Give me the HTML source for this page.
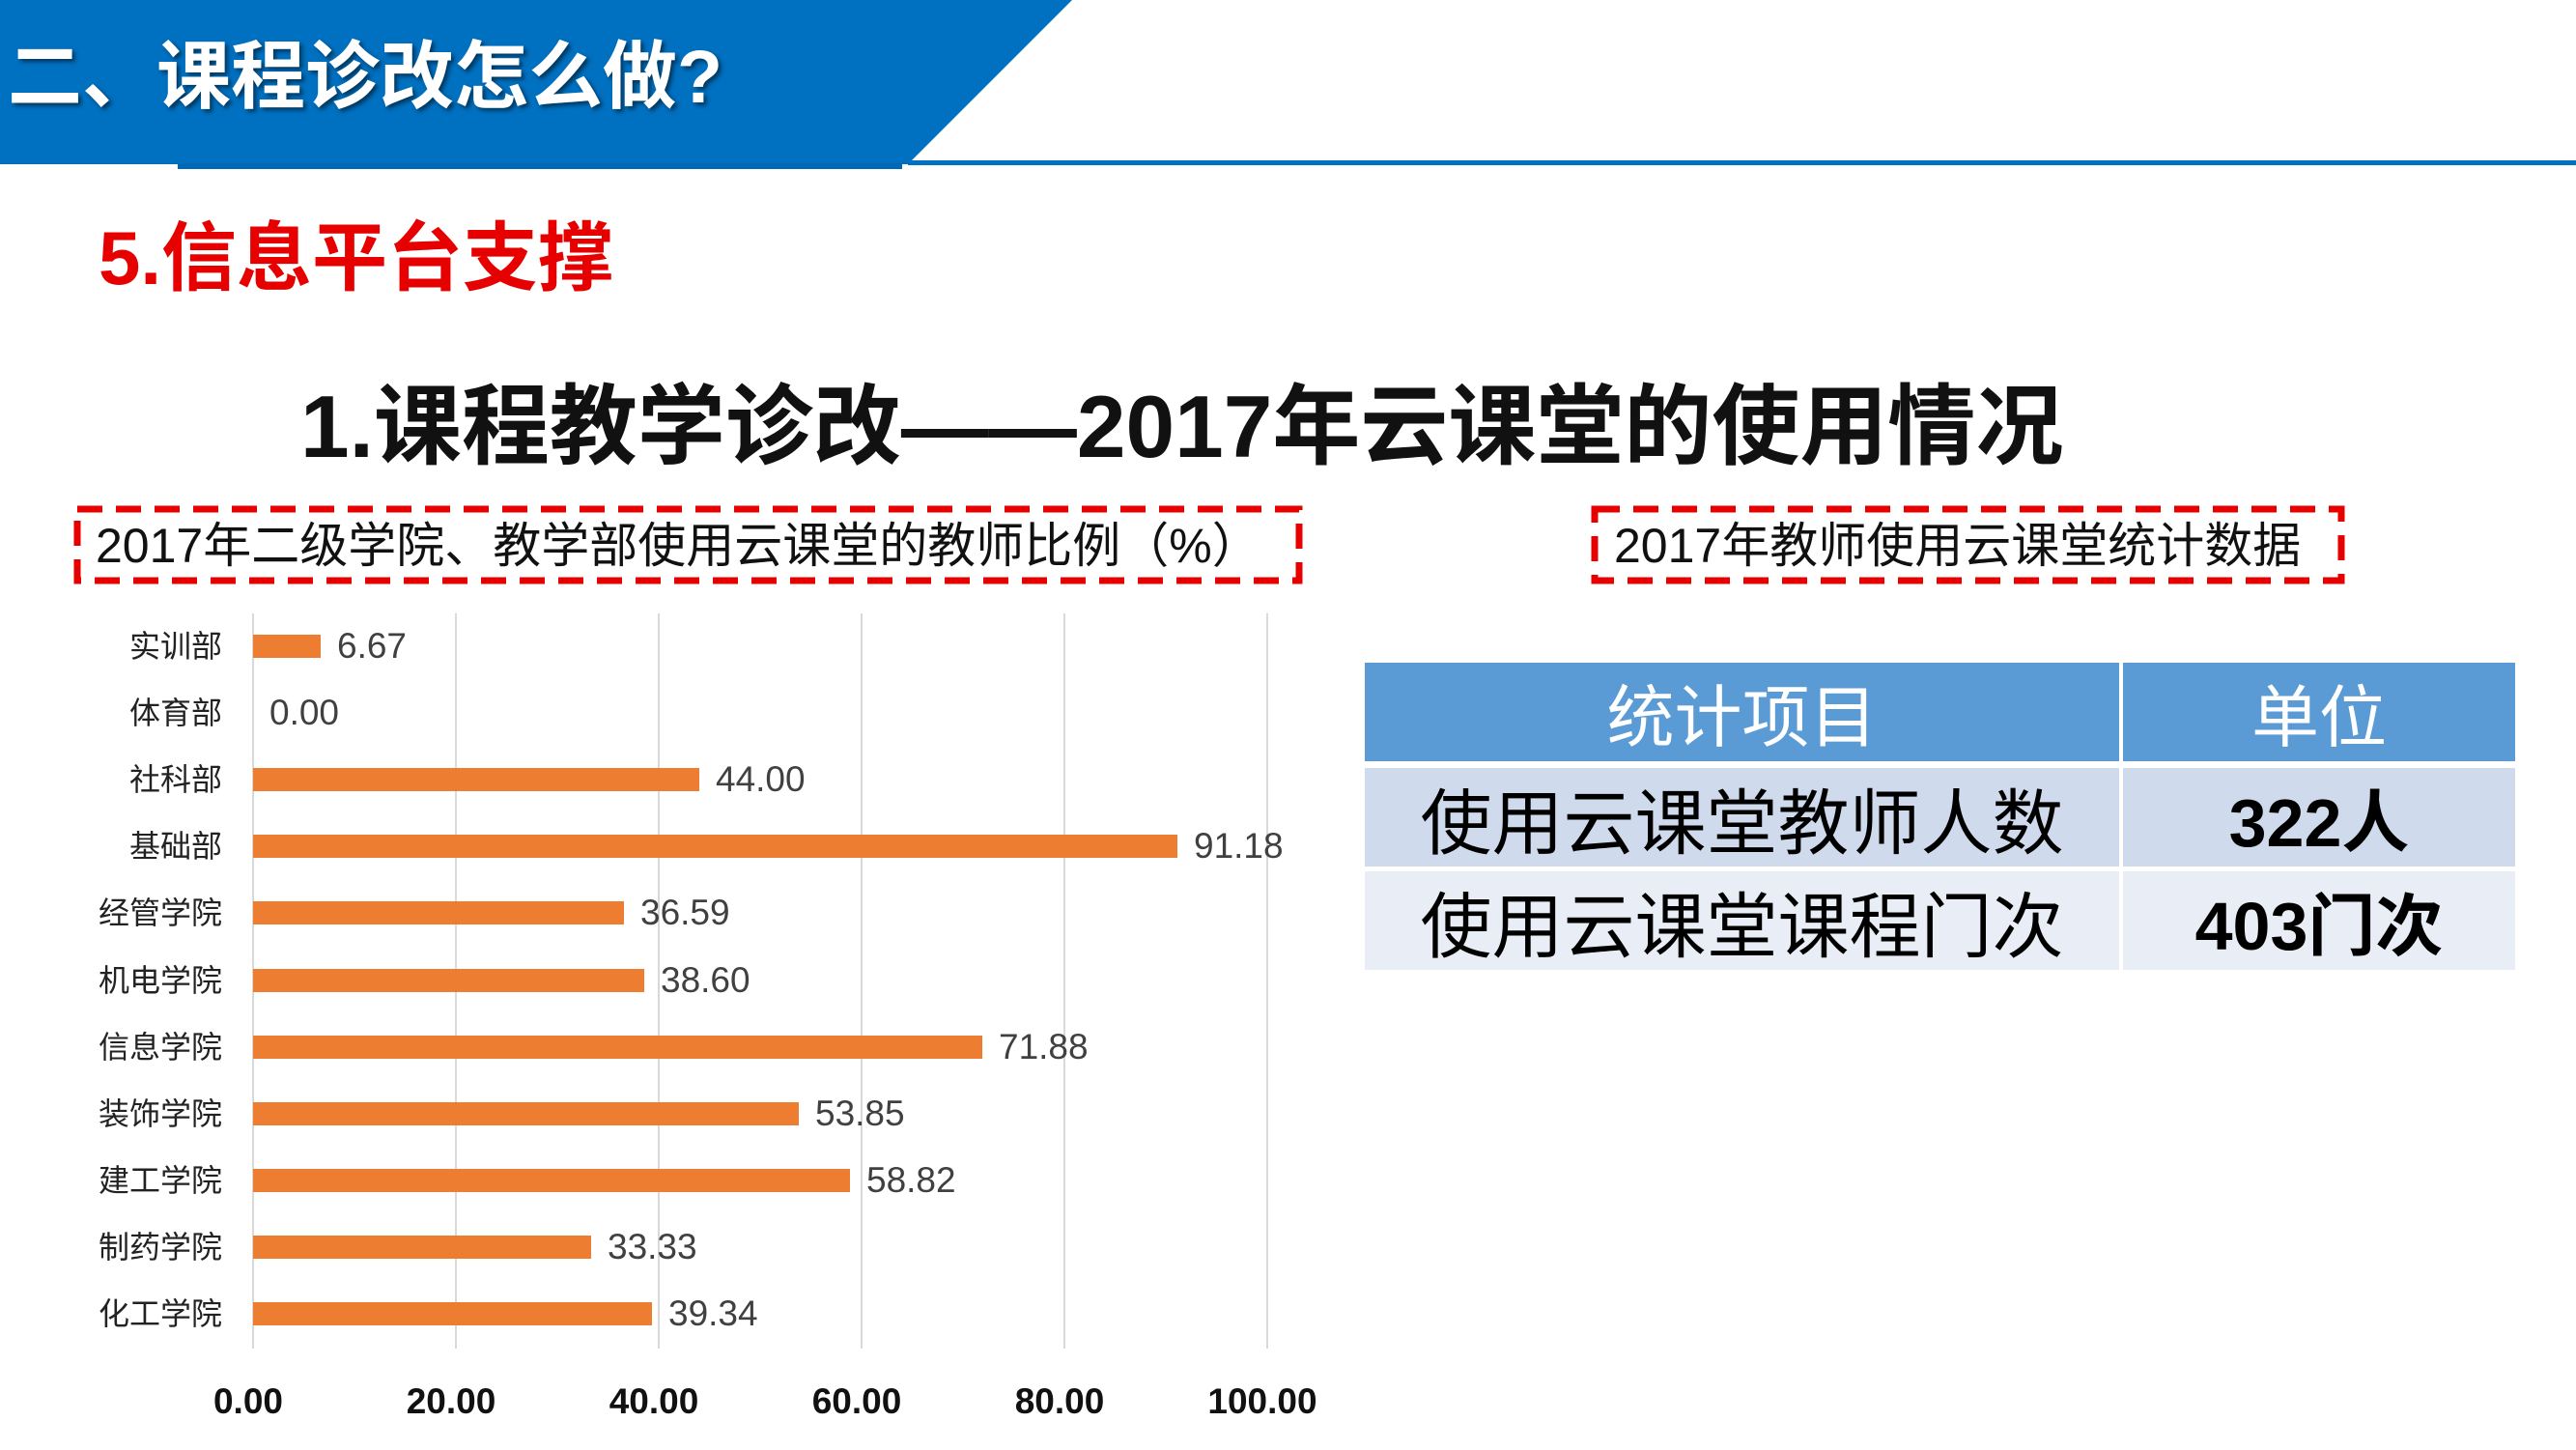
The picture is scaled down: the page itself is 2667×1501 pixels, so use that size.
<!DOCTYPE html>
<html><head><meta charset="utf-8">
<style>
*{margin:0;padding:0;box-sizing:border-box}
body{width:2667px;height:1501px;background:#fff;position:relative;overflow:hidden;font-family:"Liberation Sans","Noto Sans CJK SC",sans-serif}
.a{position:absolute;white-space:nowrap}
.cat{position:absolute;right:2437px;font-size:32px;color:#222;line-height:40px}
.bar{position:absolute;left:262px;height:24px;background:#ED7D31}
.val{position:absolute;font-size:37px;color:#404040;line-height:40px}
.grid{position:absolute;top:635px;height:761px;width:2px;background:#d9d9d9}
.xl{position:absolute;top:1430px;width:200px;text-align:center;font-size:37px;font-weight:bold;color:#111}
.cell{position:absolute;display:flex;align-items:center;justify-content:center}
</style></head><body>
<svg class="a" style="left:0;top:0" width="2667" height="180">
<polygon points="0,0 1110,0 940,170 0,170" fill="#0070C0"/>
<rect x="184" y="169" width="750" height="6" fill="#0068B5"/>
<rect x="940" y="166" width="1727" height="5" fill="#0070C0"/>
</svg>
<div class="a" style="left:8px;top:30px;font-size:77px;font-weight:bold;color:#fff;line-height:100px;text-shadow:3px 3px 4px rgba(0,0,0,.5)">二、课程诊改怎么做?</div>
<div class="a" style="left:102px;top:222px;font-size:78px;font-weight:bold;color:#E60000;line-height:90px">5.信息平台支撑</div>
<div class="a" style="left:311px;top:393px;font-size:91px;font-weight:bold;color:#111;line-height:100px">1.课程教学诊改——2017年云课堂的使用情况</div>

<svg class="a" style="left:0;top:500px" width="2667" height="130">
<rect x="80" y="27" width="1265" height="74" fill="none" stroke="#E60000" stroke-width="7" stroke-dasharray="26 14"/>
<rect x="1651" y="27" width="773" height="74" fill="none" stroke="#E60000" stroke-width="7" stroke-dasharray="26 14"/>
</svg>
<div class="a" style="left:99px;top:535px;font-size:50px;color:#111;line-height:60px">2017年二级学院、教学部使用云课堂的教师比例（%）</div>
<div class="a" style="left:1671px;top:535px;font-size:50px;color:#111;line-height:60px">2017年教师使用云课堂统计数据</div>

<div class="grid" style="left:261px"></div>
<div class="grid" style="left:471px"></div>
<div class="grid" style="left:681px"></div>
<div class="grid" style="left:891px"></div>
<div class="grid" style="left:1101px"></div>
<div class="grid" style="left:1311px"></div>

<div class="cat" style="top:649px">实训部</div><div class="bar" style="top:657px;width:70px"></div><div class="val" style="top:649px;left:349px">6.67</div>
<div class="cat" style="top:718px">体育部</div><div class="val" style="top:718px;left:279px">0.00</div>
<div class="cat" style="top:787px">社科部</div><div class="bar" style="top:795px;width:462px"></div><div class="val" style="top:787px;left:741px">44.00</div>
<div class="cat" style="top:856px">基础部</div><div class="bar" style="top:864px;width:957px"></div><div class="val" style="top:856px;left:1236px">91.18</div>
<div class="cat" style="top:925px">经管学院</div><div class="bar" style="top:933px;width:384px"></div><div class="val" style="top:925px;left:663px">36.59</div>
<div class="cat" style="top:995px">机电学院</div><div class="bar" style="top:1003px;width:405px"></div><div class="val" style="top:995px;left:684px">38.60</div>
<div class="cat" style="top:1064px">信息学院</div><div class="bar" style="top:1072px;width:755px"></div><div class="val" style="top:1064px;left:1034px">71.88</div>
<div class="cat" style="top:1133px">装饰学院</div><div class="bar" style="top:1141px;width:565px"></div><div class="val" style="top:1133px;left:844px">53.85</div>
<div class="cat" style="top:1202px">建工学院</div><div class="bar" style="top:1210px;width:618px"></div><div class="val" style="top:1202px;left:897px">58.82</div>
<div class="cat" style="top:1271px">制药学院</div><div class="bar" style="top:1279px;width:350px"></div><div class="val" style="top:1271px;left:629px">33.33</div>
<div class="cat" style="top:1340px">化工学院</div><div class="bar" style="top:1348px;width:413px"></div><div class="val" style="top:1340px;left:692px">39.34</div>

<div class="xl" style="left:157px">0.00</div>
<div class="xl" style="left:367px">20.00</div>
<div class="xl" style="left:577px">40.00</div>
<div class="xl" style="left:787px">60.00</div>
<div class="xl" style="left:997px">80.00</div>
<div class="xl" style="left:1207px">100.00</div>

<div class="cell" style="left:1413px;top:686px;width:781px;height:102px;background:#5B9BD5;color:#fff;font-size:70px">统计项目</div>
<div class="cell" style="left:2198px;top:686px;width:406px;height:102px;background:#5B9BD5;color:#fff;font-size:70px">单位</div>
<div class="cell" style="left:1413px;top:795px;width:781px;height:102px;background:#CFDAEC;color:#000;font-size:74px">使用云课堂教师人数</div>
<div class="cell" style="left:2198px;top:795px;width:406px;height:102px;background:#CFDAEC;color:#000;font-size:70px;font-weight:bold">322人</div>
<div class="cell" style="left:1413px;top:902px;width:781px;height:102px;background:#E9EEF6;color:#000;font-size:74px">使用云课堂课程门次</div>
<div class="cell" style="left:2198px;top:902px;width:406px;height:102px;background:#E9EEF6;color:#000;font-size:70px;font-weight:bold">403门次</div>
</body></html>
